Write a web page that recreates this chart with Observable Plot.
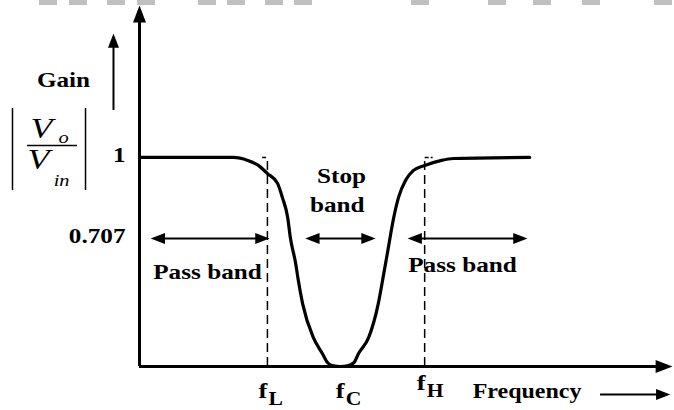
<!DOCTYPE html>
<html><head><meta charset="utf-8">
<script src="https://cdn.jsdelivr.net/npm/d3@7"></script>
<script src="https://cdn.jsdelivr.net/npm/@observablehq/plot@0.6"></script>
<style>
html,body{margin:0;padding:0;background:#fff;}
#wrap{position:relative;width:674px;height:410px;overflow:hidden;background:#fff;}
#wrap svg{display:block;}
#wrap svg text{font-family:"Liberation Serif","Times New Roman",serif !important;}
.dash{position:absolute;top:0;height:5px;width:18px;background:#c0c0c0;}
</style></head><body><div id="wrap"></div>
<script>
// ---- data (frequency in arbitrary units 0..100, gain |Vo/Vin|) ----
const curveFreq = [0,17.6,20.3,22.3,24.0,25.9,26.8,27.8,28.3,29.3,29.8,30.6,32.6,34.3,35.3,36.4,37.7,39.0,40.2,41.1,43.0,44.8,45.6,46.5,47.7,48.6,49.9,51.4,53.5,56.5,58.9,73.2];
const curveGain = [1,1,0.986,0.962,0.923,0.876,0.809,0.713,0.617,0.493,0.411,0.301,0.139,0.062,0.018,0.003,0,0.003,0.018,0.062,0.139,0.301,0.411,0.541,0.713,0.809,0.890,0.938,0.962,0.985,0.995,1];

const cutoffNames = ["L", "C", "H"];
const cutoffFreq = [24.0, 38.5, 53.5];

const bandLevel = 0.612;               // level where the band arrows are drawn
const bandStart = [2.1, 31.1, 50.3];
const bandEnd = [24.4, 44.3, 72.8];

const labelText = ["Gain", "Pass band", "Stop", "band", "Pass band"];
const labelFreq = [-14.26, 12.76, 37.9, 37.1, 60.6];
const labelGain = [1.367, 0.453, 0.908, 0.769, 0.482];

const gainTickText = ["1", "0.707"];
const gainTickLevel = [1, bandLevel];

const yMax = 1.727;
const xMax = 100;

// decoration: grey dashes along the top edge (pixel starts)
const topDashStarts = [39,69,107,137,198,227,265,294,411,488,533,582,654];

// ---- build ----
const curve = curveFreq.map((f, i) => ({f, g: curveGain[i]}));
const cutoffs = cutoffNames.map((n, i) => ({n, f: cutoffFreq[i]}));
const bands = bandStart.map((s, i) => ({s, e: bandEnd[i]}));
const labels = labelText.map((t, i) => ({t, f: labelFreq[i], g: labelGain[i]}));
const ticks = gainTickText.map((t, i) => ({t, g: gainTickLevel[i]}));

const arrowHead = {
  draw(ctx, size) {
    const r = Math.sqrt(size / Math.PI);
    const L = r * 2.6, w = r * 2;
    ctx.moveTo(0, 0); ctx.lineTo(w / 2, L); ctx.lineTo(-w / 2, L); ctx.closePath();
  }
};

const serif = "'Liberation Serif', 'Times New Roman', serif";
const bold = {fontFamily: serif, fontWeight: "bold", fill: "black"};

const fL = cutoffFreq[0], fH = cutoffFreq[2];
const inset = 1.5;

const svg = Plot.plot({
  width: 674, height: 410,
  marginLeft: 139, marginRight: 2, marginTop: 5, marginBottom: 44,
  x: {domain: [0, xMax], axis: null},
  y: {domain: [0, yMax], axis: null},
  style: {fontFamily: serif, background: "white", color: "black"},
  marks: [
    // axes
    Plot.ruleX([0], {y1: 0, y2: yMax - 0.04, stroke: "black", strokeWidth: 3}),
    Plot.ruleY([0], {x1: 0, x2: xMax - 2.5, stroke: "black", strokeWidth: 3}),
    Plot.dot([{x: 0, y: yMax}], {x: "x", y: "y", symbol: arrowHead, r: 6.5, fill: "black", rotate: 0}),
    Plot.dot([{x: xMax, y: 0}], {x: "x", y: "y", symbol: arrowHead, r: 6.5, fill: "black", rotate: 90}),
    // cutoff dashed lines
    Plot.ruleX(cutoffs.filter(d => d.n !== "C"), {x: "f", y1: 0, y2: 1, stroke: "black", strokeWidth: 1.5, strokeDasharray: "9,5"}),
    Plot.link([{a: fL - 1.0, b: fL}, {a: fH, b: fH + 1.5}], {x1: "a", x2: "b", y1: 1, y2: 1, stroke: "black", strokeWidth: 1.5, strokeDasharray: "4,2"}),
    // response curve
    Plot.line(curve, {x: "f", y: "g", curve: "monotone-x", stroke: "black", strokeWidth: 3.2}),
    // band arrows
    Plot.ruleY(bands, {y: bandLevel, x1: d => d.s + inset, x2: d => d.e - inset, stroke: "black", strokeWidth: 2}),
    Plot.dot(bands, {x: "s", y: bandLevel, symbol: arrowHead, r: 5.5, fill: "black", rotate: -90}),
    Plot.dot(bands, {x: "e", y: bandLevel, symbol: arrowHead, r: 5.5, fill: "black", rotate: 90}),
    // gain arrow
    Plot.ruleX([-4.88], {x: d => d, y1: 1.225, y2: 1.56, stroke: "black", strokeWidth: 2}),
    Plot.dot([{x: -4.88, y: 1.593}], {x: "x", y: "y", symbol: arrowHead, r: 5.5, fill: "black", rotate: 0}),
    // frequency arrow
    Plot.ruleY([-0.134], {y: d => d, x1: 86.5, x2: 97.5, stroke: "black", strokeWidth: 1.8}),
    Plot.dot([{x: 99.6, y: -0.134}], {x: "x", y: "y", symbol: arrowHead, r: 5.5, fill: "black", rotate: 90}),
    // labels
    Plot.text(labels, {x: "f", y: "g", text: "t", fontSize: 21, textAnchor: "middle", ...bold}),
    Plot.text(["Frequency"], {x: 62.5, y: -0.122, text: d => d, fontSize: 20, textAnchor: "start", ...bold}),
    Plot.text(ticks, {x: 0, y: "g", text: "t", fontSize: 21, textAnchor: "end", dx: -14, dy: -2, ...bold}),
    // cutoff labels f_L, f_C, f_H
    Plot.text(cutoffs.filter(d => d.n !== "H"), {x: "f", y: 0, text: () => "f", fontSize: 22, textAnchor: "start", dx: -9, dy: 24, ...bold}),
    Plot.text(cutoffs.filter(d => d.n !== "H"), {x: "f", y: 0, text: "n", fontSize: 18, textAnchor: "start", dx: 1, dy: 33, ...bold}),
    Plot.text(cutoffs.filter(d => d.n === "H"), {x: "f", y: 0, text: () => "f", fontSize: 22, textAnchor: "start", dx: -8, dy: 16, ...bold}),
    Plot.text(cutoffs.filter(d => d.n === "H"), {x: "f", y: 0, text: "n", fontSize: 18, textAnchor: "start", dx: 2, dy: 25, ...bold}),
    // |Vo / Vin|
    Plot.ruleX([-23.83, -10.13], {x: d => d, y1: 0.842, y2: 1.234, stroke: "black", strokeWidth: 1.5}),
    Plot.ruleY([1.057], {y: d => d, x1: -21.0, x2: -11.63, stroke: "black", strokeWidth: 1.5}),
    Plot.text([{t: "V", f: -20.45, g: 1.137}, {t: "V", f: -21.0, g: 0.993}], {x: "f", y: "g", text: "t", fontSize: 30, fontStyle: "italic", textAnchor: "start", fontFamily: serif, fill: "black"}),
    Plot.text([{t: "o", f: -15.2, g: 1.096}, {t: "in", f: -16.1, g: 0.890}], {x: "f", y: "g", text: "t", fontSize: 17, fontStyle: "italic", textAnchor: "start", fontFamily: serif, fill: "black"})
  ]
});

const wrap = document.getElementById("wrap");
wrap.append(svg);
for (const s of topDashStarts) {
  const d = document.createElement("div");
  d.className = "dash";
  d.style.left = s + "px";
  wrap.append(d);
}
// widen glyphs like the reference's stretched lettering
svg.querySelectorAll("text").forEach(t => {
  const L = t.getComputedTextLength();
  if (L > 0) {
    t.setAttribute("textLength", (L * 1.2).toFixed(1));
    t.setAttribute("lengthAdjust", "spacingAndGlyphs");
  }
});
</script></body></html>
